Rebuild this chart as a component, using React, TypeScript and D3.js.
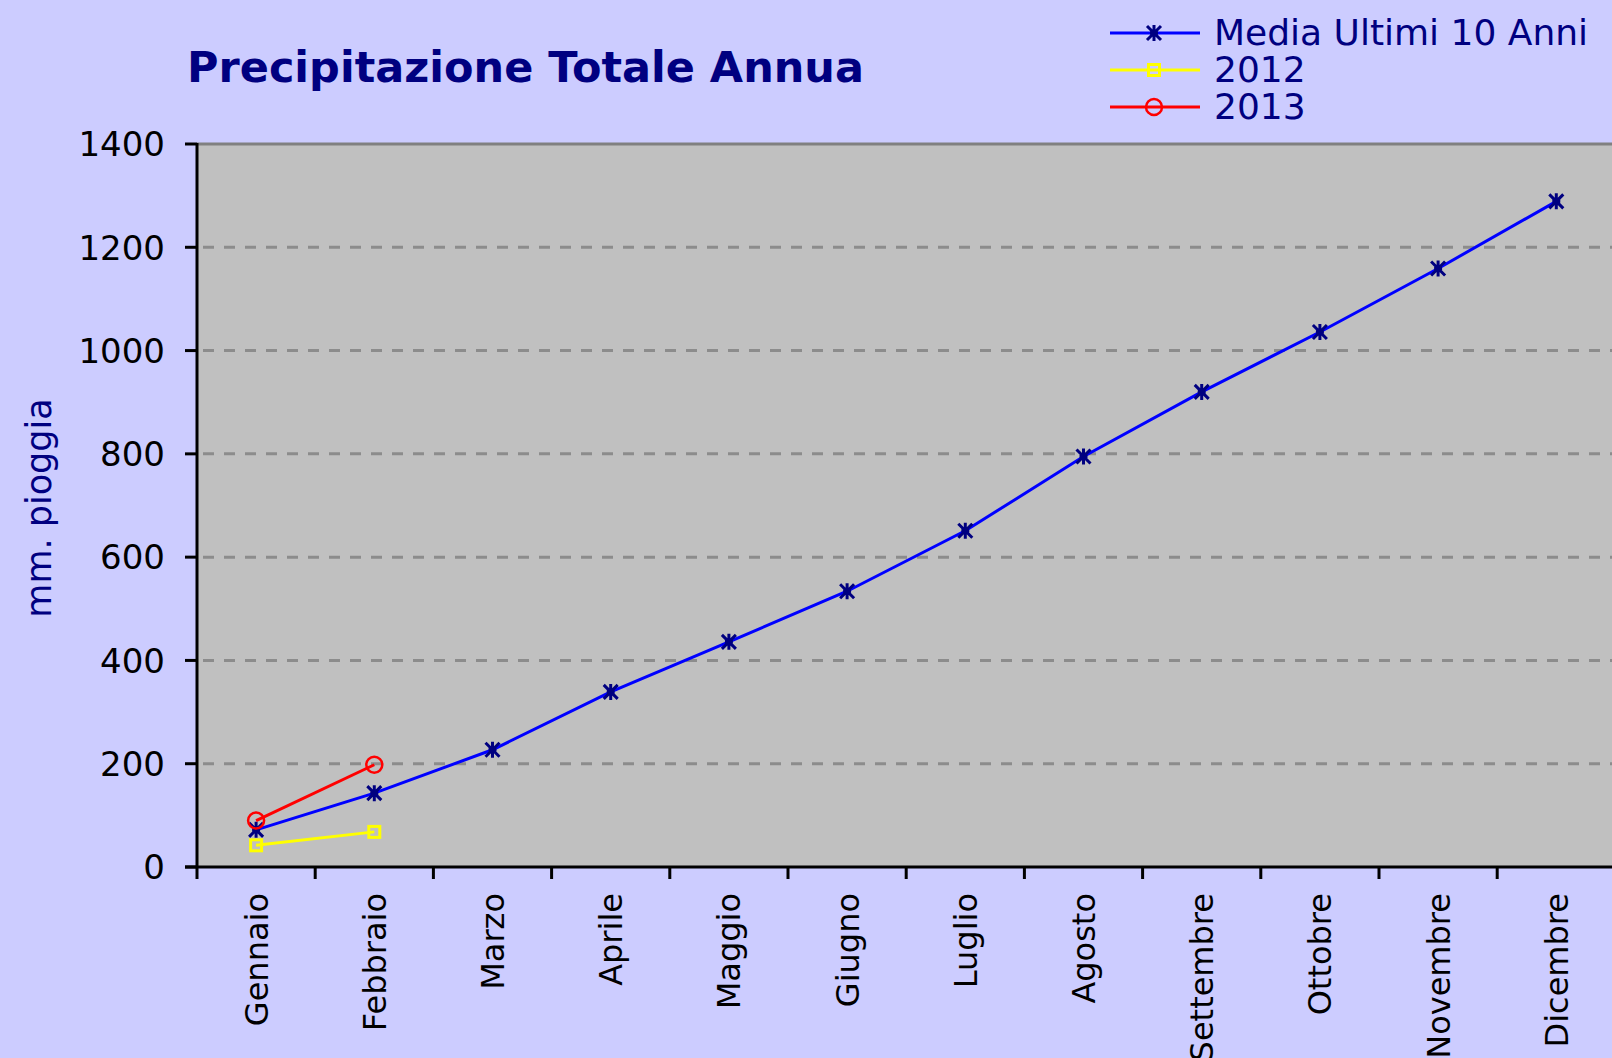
import * as React from 'react';
import * as d3 from 'd3';

const months = [
  'Gennaio', 'Febbraio', 'Marzo', 'Aprile', 'Maggio', 'Giugno',
  'Luglio', 'Agosto', 'Settembre', 'Ottobre', 'Novembre', 'Dicembre',
];
const media10 = [72, 143, 227, 339, 436, 534, 651, 795, 920, 1036, 1159, 1289];
const anno2012 = [42, 68];
const anno2013 = [90, 198];
const yTicks = [0, 200, 400, 600, 800, 1000, 1200, 1400];

const W = 1612;
const H = 1058;
const left = 197;
const top = 144;
const bottom = 867;
const step = 118.2;

const navy = '#000080';

const Star = ({ x, y }: { x: number; y: number }) => (
  <path
    d={`M${x - 7},${y - 7}L${x + 7},${y + 7}M${x + 7},${y - 7}L${x - 7},${y + 7}M${x},${y - 8}L${x},${y + 8}M${x - 4},${y}L${x + 4},${y}`}
    stroke={navy}
    strokeWidth={3}
    fill="none"
  />
);

const Square = ({ x, y }: { x: number; y: number }) => (
  <rect x={x - 5.5} y={y - 5.5} width={11} height={11} fill="none" stroke="#FFFF00" strokeWidth={3} />
);

const Circle = ({ x, y }: { x: number; y: number }) => (
  <circle cx={x} cy={y} r={8} fill="none" stroke="#FF0000" strokeWidth={2.5} />
);

export default function App() {
  const x = d3.scaleBand<string>().domain(months).range([left, left + months.length * step]);
  const y = d3.scaleLinear().domain([0, 1400]).range([bottom, top]);
  const cx = (i: number) => (x(months[i]) as number) + x.bandwidth() / 2;

  const line = d3
    .line<number>()
    .x((_, i) => cx(i))
    .y((d) => y(d));

  const series = [
    { name: 'Media Ultimi 10 Anni', values: media10, color: '#0000FF', Marker: Star },
    { name: '2012', values: anno2012, color: '#FFFF00', Marker: Square },
    { name: '2013', values: anno2013, color: '#FF0000', Marker: Circle },
  ];

  return (
    <div style={{ position: 'absolute', left: 0, top: 0 }}>
      <svg width={W} height={H} style={{ display: 'block' }}>
        <rect x={0} y={0} width={W} height={H} fill="#CCCCFF" />
        <rect x={left} y={top} width={W - left + 10} height={bottom - top} fill="#C0C0C0" />
        <line x1={left} x2={W} y1={top} y2={top} stroke="#808080" strokeWidth={3} />

        {/* grid */}
        {yTicks.filter((t) => t > 0 && t < 1400).map((t) => (
          <line
            key={t}
            x1={left + 6}
            x2={W}
            y1={y(t)}
            y2={y(t)}
            stroke="#8C8C8C"
            strokeWidth={3}
            strokeDasharray="11,10"
          />
        ))}

        {/* y axis */}
        <line x1={left} x2={left} y1={top - 1} y2={bottom + 12} stroke="#000" strokeWidth={3} />
        {yTicks.map((t) => (
          <g key={t}>
            <line x1={left - 12} x2={left} y1={y(t)} y2={y(t)} stroke="#000" strokeWidth={3} />
            <text
              x={165}
              y={y(t)}
              dy="0.36em"
              textAnchor="end"
              fontFamily="DejaVu Sans"
              fontSize={34}
              fill="#000"
            >
              {t}
            </text>
          </g>
        ))}

        {/* x axis */}
        <line x1={left - 12} x2={W} y1={bottom} y2={bottom} stroke="#000" strokeWidth={3} />
        {months.map((m) => (
          <line
            key={m}
            x1={(x(m) as number) + step}
            x2={(x(m) as number) + step}
            y1={bottom}
            y2={bottom + 12}
            stroke="#000"
            strokeWidth={3}
          />
        ))}
        {months.map((m, i) => (
          <text
            key={m}
            transform={`translate(${cx(i)},893) rotate(-90)`}
            dy="0.36em"
            textAnchor="end"
            fontFamily="DejaVu Sans"
            fontSize={32}
            fill="#000"
          >
            {m}
          </text>
        ))}

        <text
          transform="translate(38,508) rotate(-90)"
          dy="0.36em"
          textAnchor="middle"
          fontFamily="DejaVu Sans"
          fontSize={35}
          fill={navy}
        >
          mm. pioggia
        </text>

        {/* series */}
        {series.map((s) => (
          <g key={s.name}>
            <path d={line(s.values) as string} fill="none" stroke={s.color} strokeWidth={3} />
            {s.values.map((v, i) => (
              <s.Marker key={i} x={cx(i)} y={y(v)} />
            ))}
          </g>
        ))}

        <text x={187} y={82} fontFamily="DejaVu Sans" fontWeight="bold" fontSize={43} fill={navy}>
          Precipitazione Totale Annua
        </text>

        {/* legend */}
        {series.map((s, i) => {
          const ly = 33 + i * 37;
          return (
            <g key={s.name}>
              <line x1={1110} x2={1200} y1={ly} y2={ly} stroke={s.color} strokeWidth={3} />
              <s.Marker x={1154} y={ly} />
              <text x={1214} y={ly + 12} fontFamily="DejaVu Sans" fontSize={36} fill={navy}>
                {s.name}
              </text>
            </g>
          );
        })}
      </svg>
    </div>
  );
}
